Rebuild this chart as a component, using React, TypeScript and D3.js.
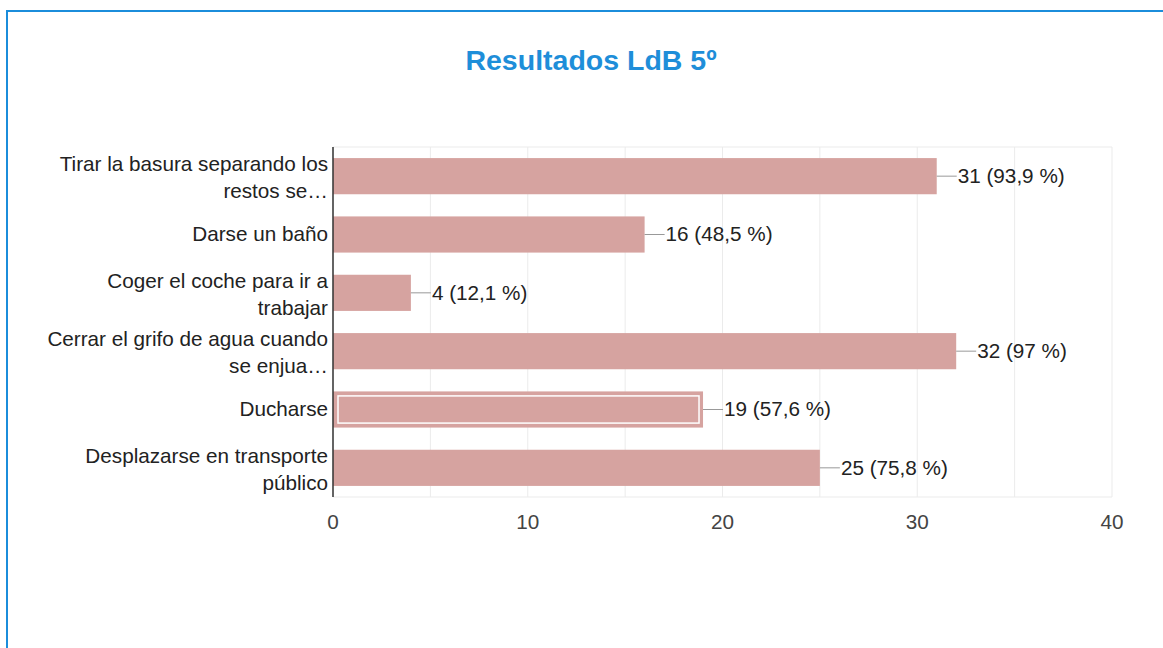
import React from 'react';
import * as d3 from 'd3';

// chart data
const title = 'Resultados LdB 5º';
const categories = [
  'Tirar la basura separando los\nrestos se…',
  'Darse un baño',
  'Coger el coche para ir a\ntrabajar',
  'Cerrar el grifo de agua cuando\nse enjua…',
  'Ducharse',
  'Desplazarse en transporte\npúblico',
];
const counts = [31, 16, 4, 32, 19, 25];
const percents = ['93,9', '48,5', '12,1', '97', '57,6', '75,8'];
const highlighted = 'Ducharse';
const xDomain = [0, 40];

const W = 1163;
const H = 648;
const margin = { top: 147, right: 51, bottom: 151, left: 333 };
const font = 'Arial, "Liberation Sans", sans-serif';
const fs = 20.7;
const lineH = 26.6;

export default function App() {
  const x = d3.scaleLinear().domain(xDomain).range([margin.left, W - margin.right]);
  const y = d3.scaleBand<string>()
    .domain(categories)
    .range([margin.top, H - margin.bottom])
    .paddingInner(0.38)
    .paddingOuter(0.19);

  const grid = x.ticks(8);
  const ticks = x.ticks(4);
  const [y0, y1] = y.range();

  return (
    <svg width={W} height={H} style={{ position: 'absolute', left: 0, top: 0, background: '#fff' }}>
      {/* frame */}
      <rect x={7} y={11} width={W + 20} height={H + 20} fill="none" stroke="#1b8ddb" strokeWidth={2} />

      <text x={591} y={70} textAnchor="middle" fontFamily={font} fontWeight="bold" fontSize={28.5} fill="#1e8ed9">
        {title}
      </text>

      {/* gridlines */}
      <line x1={margin.left} x2={x(xDomain[1])} y1={y0} y2={y0} stroke="#ebebeb" />
      <line x1={margin.left} x2={x(xDomain[1])} y1={y1} y2={y1} stroke="#ebebeb" />
      {grid.map(t => (
        <line key={t} x1={x(t)} x2={x(t)} y1={y0} y2={y1} stroke="#ebebeb" />
      ))}

      {/* bars */}
      {categories.map((c, i) => {
        const by = y(c)!;
        const bh = y.bandwidth();
        const bx = x(counts[i]);
        const cy = by + bh / 2;
        const lines = c.split('\n');
        return (
          <g key={c}>
            <rect x={x(0)} y={by} width={bx - x(0)} height={bh} fill="#d6a3a0" />
            {c === highlighted && (
              <rect x={x(0) + 5} y={by + 4.5} width={bx - x(0) - 9} height={bh - 9}
                fill="none" stroke="#fff" strokeWidth={1.5} />
            )}
            <line x1={bx} x2={bx + 20} y1={cy} y2={cy} stroke="#999" />
            <text x={bx + 21} y={cy} dy="0.33em" fontFamily={font} fontSize={fs} fill="#222">
              {`${counts[i]} (${percents[i]} %)`}
            </text>
            {lines.map((line, j) => (
              <text key={j} x={margin.left - 5}
                y={cy + (j - (lines.length - 1) / 2) * lineH + (lines.length > 1 ? 1.3 : -0.8)}
                dy="0.35em" textAnchor="end" fontFamily={font} fontSize={fs} fill="#222">
                {line}
              </text>
            ))}
          </g>
        );
      })}

      {/* axis */}
      <line x1={x(0)} x2={x(0)} y1={y0} y2={y1} stroke="#333" strokeWidth={1.5} />
      {ticks.map(t => (
        <text key={t} x={x(t)} y={522} dy="0.35em" textAnchor="middle" fontFamily={font} fontSize={fs} fill="#444">
          {t}
        </text>
      ))}
    </svg>
  );
}
